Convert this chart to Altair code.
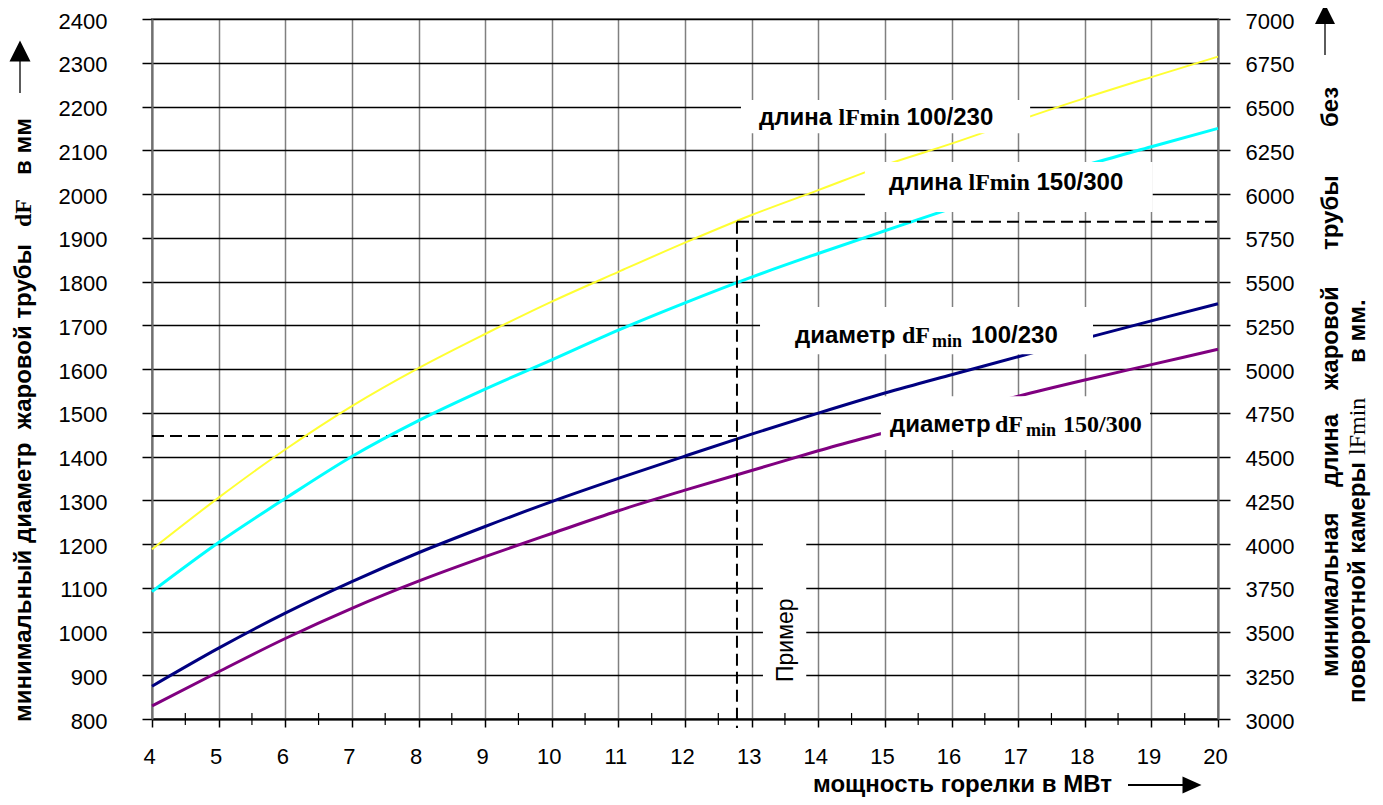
import altair as alt
import pandas as pd

# ---------------- data ----------------
power_mw = [4, 5, 6, 7, 8, 9, 10, 11, 12, 13, 14, 15, 16, 17, 18, 19, 20]
# minimal flame-tube diameter dF, mm (left axis)
diam_100_230 = [875, 962, 1042, 1114, 1180, 1240, 1297, 1350, 1401, 1451, 1499, 1545, 1587, 1628, 1670, 1710, 1749]
diam_150_300 = [830, 908, 984, 1053, 1115, 1171, 1224, 1276, 1323, 1368, 1413, 1455, 1497, 1538, 1575, 1610, 1645]
# minimal flame-tube length lF, mm (right axis)
len_100_230 = [3970, 4265, 4540, 4788, 5005, 5200, 5385, 5555, 5722, 5880, 6022, 6165, 6288, 6420, 6548, 6668, 6785]
len_150_300 = [3728, 4008, 4260, 4500, 4705, 4885, 5052, 5222, 5378, 5525, 5660, 5790, 5918, 6040, 6162, 6270, 6375]

# worked example ("Пример")
example_power = [12.78]
example_diam = [1447]
example_len = [5842]

x_ticks = list(range(4, 21))
x_minor = [v + 0.5 for v in range(4, 20)]
left_ticks = list(range(800, 2401, 100))
right_ticks = list(range(3000, 7001, 250))

SANS = "Liberation Sans"
SERIF = "Liberation Serif"

df = pd.DataFrame({"power": power_mw, "d100": diam_100_230, "d150": diam_150_300,
                   "l100": len_100_230, "l150": len_150_300})

xs = alt.Scale(domain=[4, 20], nice=False, zero=False)
yl = alt.Scale(domain=[800, 2400], nice=False, zero=False)
yr = alt.Scale(domain=[3000, 7000], nice=False, zero=False)

x_axis = alt.Axis(values=x_ticks, title=None, grid=True, gridColor="#808080", gridWidth=1.5,
                  domainColor="black", domainWidth=2, tickColor="black", tickWidth=1.5, tickSize=8,
                  labelFontSize=22, labelPadding=19, labelFlush=False, labelOverlap=False,
                  labelOffset=-3, labelColor="black", labelFont=SANS, format="d")
left_axis = alt.Axis(values=left_ticks, title=None, grid=True, gridColor="black", gridWidth=1.3,
                     domainColor="#707070", domainWidth=2, tickColor="black", tickWidth=1.5,
                     tickSize=10, labelPadding=35, labelFontSize=22, labelOffset=2,
                     labelColor="black", labelFont=SANS, format="d", labelOverlap=False)
right_axis = alt.Axis(orient="right", values=right_ticks, title=None, grid=False,
                      domainColor="#707070", domainWidth=2, tickColor="black", tickWidth=1.5,
                      tickSize=12, labelPadding=15, labelFontSize=22, labelOffset=2,
                      labelColor="black", labelFont=SANS, format="d", labelOverlap=False)

X = alt.X("power:Q", scale=xs, axis=x_axis)


def curve(col, color, width, yscale, yaxis):
    return alt.Chart(df).mark_line(color=color, strokeWidth=width, interpolate="monotone").encode(
        x=X, y=alt.Y(f"{col}:Q", scale=yscale, axis=yaxis))


dash = dict(strokeDash=[12, 6], strokeWidth=2, color="black")

# ---------------- group 1: diameters (left axis) ----------------
lower_dash = alt.Chart(pd.DataFrame({"x0": [4], "x1": example_power, "y": example_diam})).mark_rule(**dash).encode(
    x=alt.X("x0:Q", scale=xs, axis=x_axis), x2="x1:Q", y=alt.Y("y:Q", scale=yl, axis=left_axis))
g1 = alt.layer(
    curve("d100", "#000080", 3, yl, left_axis),
    curve("d150", "#800080", 3, yl, left_axis),
    lower_dash,
)

# ---------------- group 2: lengths (right axis) ----------------
upper_dash = alt.Chart(pd.DataFrame({"x0": example_power, "x1": [20], "y": example_len})).mark_rule(**dash).encode(
    x=alt.X("x0:Q", scale=xs, axis=x_axis), x2="x1:Q", y=alt.Y("y:Q", scale=yr, axis=right_axis))
vert_dash = alt.Chart(pd.DataFrame({"x": example_power, "y": example_len})).mark_rule(**dash).encode(
    x=alt.X("x:Q", scale=xs, axis=x_axis), y=alt.Y("y:Q", scale=yr, axis=right_axis), y2=alt.value(709))
g2 = alt.layer(
    curve("l100", "#FFFF33", 2, yr, right_axis),
    curve("l150", "#00FFFF", 3, yr, right_axis),
    upper_dash,
    vert_dash,
)

# ---------------- group 3: annotations ----------------
box_x0 = [12.84, 14.70, 13.126, 14.94, 13.17]
box_x1 = [17.18, 19.02, 18.124, 18.98, 13.82]
box_y0 = [2215, 2073, 1742, 1538, 1221]
box_y1 = [2139, 1959, 1634, 1415, 816]
boxes = alt.Chart(pd.DataFrame({"x0": box_x0, "x1": box_x1, "y0": box_y0, "y1": box_y1})).mark_rect(
    color="white", opacity=1).encode(
    x=alt.X("x0:Q", scale=xs, axis=x_axis), x2="x1:Q",
    y=alt.Y("y0:Q", scale=yl, axis=None), y2="y1:Q")

labels = [
    (13.111, 2157.7, [("длина", 0, 0, SANS, 24), ("lFmin", 79.5, 0, SERIF, 24), ("100/230", 147.5, 0, SANS, 24)]),
    (15.062, 2009.1, [("длина", 0, 0, SANS, 24), ("lFmin", 79.5, 0, SERIF, 24), ("150/300", 147.5, 0, SANS, 24)]),
    (13.651, 1659.4, [("диаметр", 0, 0, SANS, 24), ("dF", 107, 0, SERIF, 24), ("min", 137, 4, SERIF, 18),
                      ("100/230", 176, 0, SANS, 24)]),
    (15.077, 1456.7, [("диаметр", 0, 0, SANS, 24), ("dF", 105, 0, SERIF, 24), ("min", 136, 4, SERIF, 18),
                      ("150/300", 173, 0, SERIF, 24)]),
]
text_layers = []
for lx, ly, pieces in labels:
    d = pd.DataFrame({"x": [lx], "y": [ly]})
    for txt, dx, dy, font, size in pieces:
        text_layers.append(alt.Chart(d).mark_text(
            text=txt, dx=dx, dy=dy, font=font, fontSize=size, fontWeight="bold", color="black",
            align="left", baseline="alphabetic").encode(
            x=alt.X("x:Q", scale=xs, axis=x_axis), y=alt.Y("y:Q", scale=yl, axis=None)))

primer = alt.Chart(pd.DataFrame({"x": [13.516], "y": [884.6]})).mark_text(
    text="Пример", angle=270, align="left", baseline="middle", font=SANS, fontSize=23, color="black").encode(
    x=alt.X("x:Q", scale=xs, axis=x_axis), y=alt.Y("y:Q", scale=yl, axis=None))

minor = alt.Chart(pd.DataFrame({"m": x_minor})).mark_rule(color="black", strokeWidth=1.2).encode(
    x=alt.X("m:Q", scale=xs, axis=x_axis), y=alt.value(694), y2=alt.value(706))

dummy = pd.DataFrame({"k": [0]})


def ptext(txt, px, py, font=SANS, size=24, weight="bold", angle=0):
    return alt.Chart(dummy).mark_text(text=txt, angle=angle, align="left", baseline="alphabetic",
                                      font=font, fontSize=size, fontWeight=weight, color="black").encode(
        x=alt.value(px), y=alt.value(py))


titles = [
    # left axis title (rotated)
    ptext("минимальный диаметр\u00a0\u00a0жаровой трубы", -121.5, 703, angle=270),
    ptext("dF", -121.5, 208, font=SERIF, angle=270),
    ptext("в мм", -121.5, 156, angle=270),
    # right axis title, line 1
    ptext("минимальная", 1186, 658, angle=270),
    ptext("длина", 1186, 468, angle=270),
    ptext("жаровой", 1186, 371, angle=270),
    ptext("трубы", 1186, 231, angle=270),
    ptext("без", 1186, 108, angle=270),
    # right axis title, line 2
    ptext("поворотной камеры", 1213, 684, angle=270),
    ptext("lFmin", 1213, 436, font=SERIF, weight="normal", angle=270),
    ptext("в мм.", 1213, 344, angle=270),
    # x axis title
    ptext("мощность горелки в МВт", 661, 773),
]

tri_up = "M0,-1L1,1L-1,1Z"
tri_right = "M1,0L-1,-0.9L-1,0.9Z"
arrows = [
    alt.Chart(dummy).mark_rule(color="#333333", strokeWidth=1.6).encode(
        x=alt.value(-132), y=alt.value(40), y2=alt.value(74)),
    alt.Chart(dummy).mark_point(shape=tri_up, size=441, filled=True, color="black", opacity=1).encode(
        x=alt.value(-132), y=alt.value(32)),
    alt.Chart(dummy).mark_rule(color="#333333", strokeWidth=1.6).encode(
        x=alt.value(1173), y=alt.value(2), y2=alt.value(36)),
    alt.Chart(dummy).mark_point(shape=tri_up, size=400, filled=True, color="black", opacity=1).encode(
        x=alt.value(1173), y=alt.value(-5)),
    alt.Chart(dummy).mark_rule(color="black", strokeWidth=2).encode(
        x=alt.value(976), x2=alt.value(1033), y=alt.value(766)),
    alt.Chart(dummy).mark_point(shape=tri_right, size=361, filled=True, color="black", opacity=1).encode(
        x=alt.value(1040), y=alt.value(766)),
]

g3 = alt.layer(boxes, *text_layers, primer, minor, *titles, *arrows)

chart = alt.layer(g1, g2, g3).resolve_scale(y="independent").properties(
    width=1066, height=700,
    padding={"left": 144, "top": 11, "right": 155, "bottom": 78},
    autosize=alt.AutoSizeParams(type="none"),
    background="white",
).configure_view(stroke="#8c8c8c", strokeWidth=2)

chart.save("out.html", embed_options={"renderer": "svg", "actions": False})
